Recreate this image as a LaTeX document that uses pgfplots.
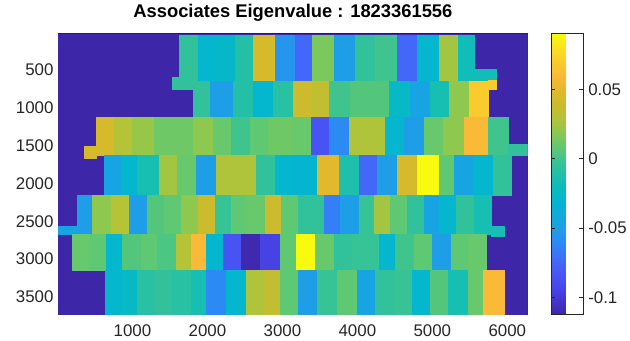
\documentclass[border=0pt]{standalone}
\usepackage{fontspec}
\setmainfont{Liberation Sans}
\usepackage{pgfplots}
\pgfplotsset{compat=1.18}
\usepgfplotslibrary{patchplots}
\pgfplotsset{colormap={parula}{
rgb255=(62,38,168) rgb255=(67,54,205) rgb255=(71,72,238) rgb255=(71,88,246)
rgb255=(64,110,250) rgb255=(45,135,246) rgb255=(32,156,233) rgb255=(18,168,222)
rgb255=(3,181,208) rgb255=(10,187,190) rgb255=(32,192,170) rgb255=(60,196,145)
rgb255=(100,200,110) rgb255=(140,200,80) rgb255=(180,195,55) rgb255=(203,188,45)
rgb255=(225,185,43) rgb255=(250,185,55) rgb255=(250,202,45) rgb255=(250,225,33)
rgb255=(249,251,14)}}
\definecolor{axgray}{rgb}{0.15,0.15,0.15}
\def\B#1#2#3#4#5{(#1,#3) [#5] (#2,#3) [#5] (#2,#4) [#5] (#1,#4) [#5] }
\begin{document}
\begin{tikzpicture}
\edef\allbricks{%
\B{10}{6270}{20}{3730}{-0.112}
% row 1
\B{1618}{1882}{45}{648}{-0.005}
\B{1882}{2121}{45}{648}{-0.03}
\B{2121}{2372}{45}{648}{-0.027}
\B{2372}{2611}{45}{648}{-0.01}
\B{2611}{2902}{45}{648}{0.045}
\B{2902}{3166}{45}{648}{-0.055}
\B{3166}{3404}{45}{648}{-0.075}
\B{3404}{3695}{45}{648}{0.015}
\B{3695}{3973}{45}{648}{-0.05}
\B{3973}{4238}{45}{648}{-0.005}
\B{4238}{4529}{45}{648}{0.0}
\B{4529}{4793}{45}{648}{-0.075}
\B{4793}{5085}{45}{648}{-0.03}
\B{5085}{5349}{45}{648}{0.025}
\B{5349}{5561}{45}{648}{-0.018}
\B{5349}{5852}{491}{648}{-0.018}
% row 2
\B{1525}{1816}{596}{753}{-0.005}
\B{1816}{2041}{648}{1120}{-0.005}
\B{2041}{2346}{648}{1120}{-0.05}
\B{2346}{2611}{648}{1120}{-0.01}
\B{2611}{2875}{648}{1120}{-0.03}
\B{2875}{3140}{648}{1120}{-0.008}
\B{3140}{3378}{648}{1120}{0.04}
\B{3378}{3629}{648}{1120}{0.035}
\B{3629}{3907}{648}{1120}{0.0}
\B{3907}{4172}{648}{1120}{0.005}
\B{4172}{4423}{648}{1120}{0.005}
\B{4423}{4701}{648}{1120}{-0.025}
\B{4701}{4965}{648}{1120}{-0.045}
\B{4965}{5230}{648}{1120}{-0.015}
\B{5230}{5495}{648}{1120}{0.02}
\B{5495}{5746}{648}{1120}{0.07}
\B{5746}{5852}{630}{760}{0.07}
% row 3
\B{361}{520}{1514}{1671}{0.045}
\B{520}{758}{1120}{1632}{0.045}
\B{758}{996}{1120}{1632}{0.03}
\B{996}{1287}{1120}{1632}{0.022}
\B{1287}{1552}{1120}{1632}{0.012}
\B{1552}{1816}{1120}{1632}{0.012}
\B{1816}{2081}{1120}{1632}{0.02}
\B{2081}{2319}{1120}{1632}{0.01}
\B{2319}{2571}{1120}{1632}{0.0}
\B{2571}{2809}{1120}{1632}{0.008}
\B{2809}{3140}{1120}{1632}{0.012}
\B{3140}{3378}{1120}{1632}{0.01}
\B{3378}{3629}{1120}{1632}{-0.085}
\B{3629}{3894}{1120}{1632}{-0.06}
\B{3894}{4132}{1120}{1632}{0.028}
\B{4132}{4370}{1120}{1632}{0.028}
\B{4370}{4621}{1120}{1632}{-0.03}
\B{4621}{4886}{1120}{1632}{-0.05}
\B{4886}{5151}{1120}{1632}{0.01}
\B{5151}{5429}{1120}{1632}{0.02}
\B{5429}{5746}{1120}{1632}{0.06}
\B{5746}{6011}{1120}{1632}{0.0}
% row 4
\B{6011}{6270}{1475}{1632}{-0.005}
\B{626}{851}{1632}{2157}{-0.045}
\B{851}{1062}{1632}{2157}{-0.03}
\B{1062}{1353}{1632}{2157}{-0.015}
\B{1353}{1591}{1632}{2157}{0.025}
\B{1591}{1856}{1632}{2157}{0.01}
\B{1856}{2121}{1632}{2157}{-0.05}
\B{2121}{2412}{1632}{2157}{0.028}
\B{2412}{2650}{1632}{2157}{0.028}
\B{2650}{2902}{1632}{2157}{-0.005}
\B{2902}{3140}{1632}{2157}{-0.03}
\B{3140}{3470}{1632}{2157}{-0.032}
\B{3470}{3761}{1632}{2157}{0.05}
\B{3761}{4026}{1632}{2157}{-0.012}
\B{4026}{4264}{1632}{2157}{-0.075}
\B{4264}{4529}{1632}{2157}{-0.05}
\B{4529}{4793}{1632}{2157}{0.045}
\B{4793}{5085}{1632}{2157}{0.09}
\B{5085}{5296}{1632}{2157}{0.008}
\B{5296}{5548}{1632}{2157}{-0.045}
\B{5548}{5812}{1632}{2157}{-0.03}
\B{5812}{6051}{1632}{2157}{-0.005}
% row 5
\B{10}{269}{2564}{2668}{-0.045}
\B{269}{467}{2157}{2668}{-0.05}
\B{467}{718}{2157}{2668}{0.02}
\B{718}{957}{2157}{2668}{0.03}
\B{957}{1195}{2157}{2668}{-0.05}
\B{1195}{1420}{2157}{2668}{0.005}
\B{1420}{1644}{2157}{2668}{0.008}
\B{1644}{1882}{2157}{2668}{0.02}
\B{1882}{2108}{2157}{2668}{0.04}
\B{2108}{2319}{2157}{2668}{-0.003}
\B{2319}{2518}{2157}{2668}{0.008}
\B{2518}{2769}{2157}{2668}{0.01}
\B{2769}{2981}{2157}{2668}{0.04}
\B{2981}{3206}{2157}{2668}{0.008}
\B{3206}{3563}{2157}{2668}{-0.005}
\B{3563}{3775}{2157}{2668}{-0.065}
\B{3775}{4026}{2157}{2668}{-0.05}
\B{4026}{4225}{2157}{2668}{-0.003}
\B{4225}{4436}{2157}{2668}{0.025}
\B{4436}{4661}{2157}{2668}{0.008}
\B{4661}{4886}{2157}{2668}{-0.005}
\B{4886}{5098}{2157}{2668}{-0.045}
\B{5098}{5323}{2157}{2668}{-0.03}
\B{5323}{5561}{2157}{2668}{-0.005}
\B{5561}{5786}{2157}{2668}{-0.015}
\B{5786}{5958}{2564}{2694}{-0.015}
% row 6
\B{202}{427}{2668}{3154}{0.01}
\B{427}{652}{2668}{3154}{0.008}
\B{652}{864}{2668}{3154}{-0.03}
\B{864}{1115}{2668}{3154}{0.005}
\B{1115}{1327}{2668}{3154}{0.008}
\B{1327}{1578}{2668}{3154}{0.003}
\B{1578}{1790}{2668}{3154}{0.03}
\B{1790}{1988}{2668}{3154}{0.06}
\B{1988}{2213}{2668}{3154}{-0.03}
\B{2213}{2452}{2668}{3154}{-0.085}
\B{2452}{2703}{2668}{3154}{-0.11}
\B{2703}{2968}{2668}{3154}{-0.095}
\B{2968}{3179}{2668}{3154}{0.008}
\B{3179}{3444}{2668}{3154}{0.09}
\B{3444}{3695}{2668}{3154}{0.01}
\B{3695}{3933}{2668}{3154}{-0.005}
\B{3933}{4291}{2668}{3154}{-0.003}
\B{4291}{4502}{2668}{3154}{-0.03}
\B{4502}{4754}{2668}{3154}{0.0}
\B{4754}{4992}{2668}{3154}{0.008}
\B{4992}{5257}{2668}{3154}{-0.05}
\B{5257}{5482}{2668}{3154}{0.008}
\B{5482}{5720}{2668}{3154}{0.01}
% row 7
\B{639}{864}{3154}{3730}{-0.03}
\B{864}{1062}{3154}{3730}{-0.025}
\B{1062}{1287}{3154}{3730}{-0.008}
\B{1287}{1525}{3154}{3730}{-0.005}
\B{1525}{1777}{3154}{3730}{-0.008}
\B{1777}{1988}{3154}{3730}{-0.015}
\B{1988}{2253}{3154}{3730}{-0.06}
\B{2253}{2518}{3154}{3730}{-0.03}
\B{2518}{2743}{3154}{3730}{0.028}
\B{2743}{2968}{3154}{3730}{0.035}
\B{2968}{3206}{3154}{3730}{0.008}
\B{3206}{3470}{3154}{3730}{-0.05}
\B{3470}{3735}{3154}{3730}{-0.003}
\B{3735}{4000}{3154}{3730}{0.008}
\B{4000}{4238}{3154}{3730}{-0.045}
\B{4238}{4489}{3154}{3730}{-0.005}
\B{4489}{4727}{3154}{3730}{-0.003}
\B{4727}{4965}{3154}{3730}{-0.03}
\B{4965}{5217}{3154}{3730}{0.005}
\B{5217}{5482}{3154}{3730}{-0.015}
\B{5482}{5680}{3154}{3730}{0.01}
\B{5680}{5958}{3154}{3730}{0.06}
}
\edef\doplot{\noexpand\addplot[patch, patch type=rectangle, shader=flat, point meta=explicit] coordinates {\allbricks};}
\begin{axis}[
  name=main,
  scale only axis, width=473pt, height=282.7pt,
  xmin=10, xmax=6270, ymin=20, ymax=3730, y dir=reverse,
  colormap name=parula,
  point meta min=-0.112, point meta max=0.090,
  xtick={1000,2000,3000,4000,5000,6000},
  xticklabels={1000,2000,3000,4000,5000,6000},
  ytick={500,1000,1500,2000,2500,3000,3500},
  yticklabels={500,1000,1500,2000,2500,3000,3500},
  tick align=inside, major tick length=4pt,
  tick style={axgray, line width=0.5pt},
  axis line style={axgray, line width=0.6pt},
  ticklabel style={font=\fontsize{17}{20}\selectfont, text=axgray},
  xticklabel style={yshift=-7pt},
  yticklabel style={xshift=-1.3pt},
  title={Associates Eigenvalue : 1823361556},
  title style={at={(0.5,1)}, anchor=base, yshift=10pt, font=\bfseries\fontsize{18.5}{22}\selectfont},
  colorbar,
  colorbar style={
    at={(parent axis.north east)}, anchor=north west, xshift=15.6pt,
    scale only axis, width=32pt, height=282.7pt,
    ytick={-0.1,-0.05,0,0.05},
    yticklabels={-0.1,-0.05,0,0.05},
    yticklabel pos=right,
    tick align=inside, major tick length=4pt,
    tick style={axgray, line width=0.5pt},
    axis line style={axgray, line width=0.6pt},
    ticklabel style={font=\fontsize{17}{20}\selectfont, text=axgray},
    yticklabel style={xshift=1.5pt},
  },
]
\doplot
\end{axis}
\path (main.south west) ++(-58.7pt,-26.3pt) coordinate (bl);
\path (main.north east) ++(98.3pt,34pt) coordinate (tr);
\path (bl) rectangle (tr);
\end{tikzpicture}
\end{document}
